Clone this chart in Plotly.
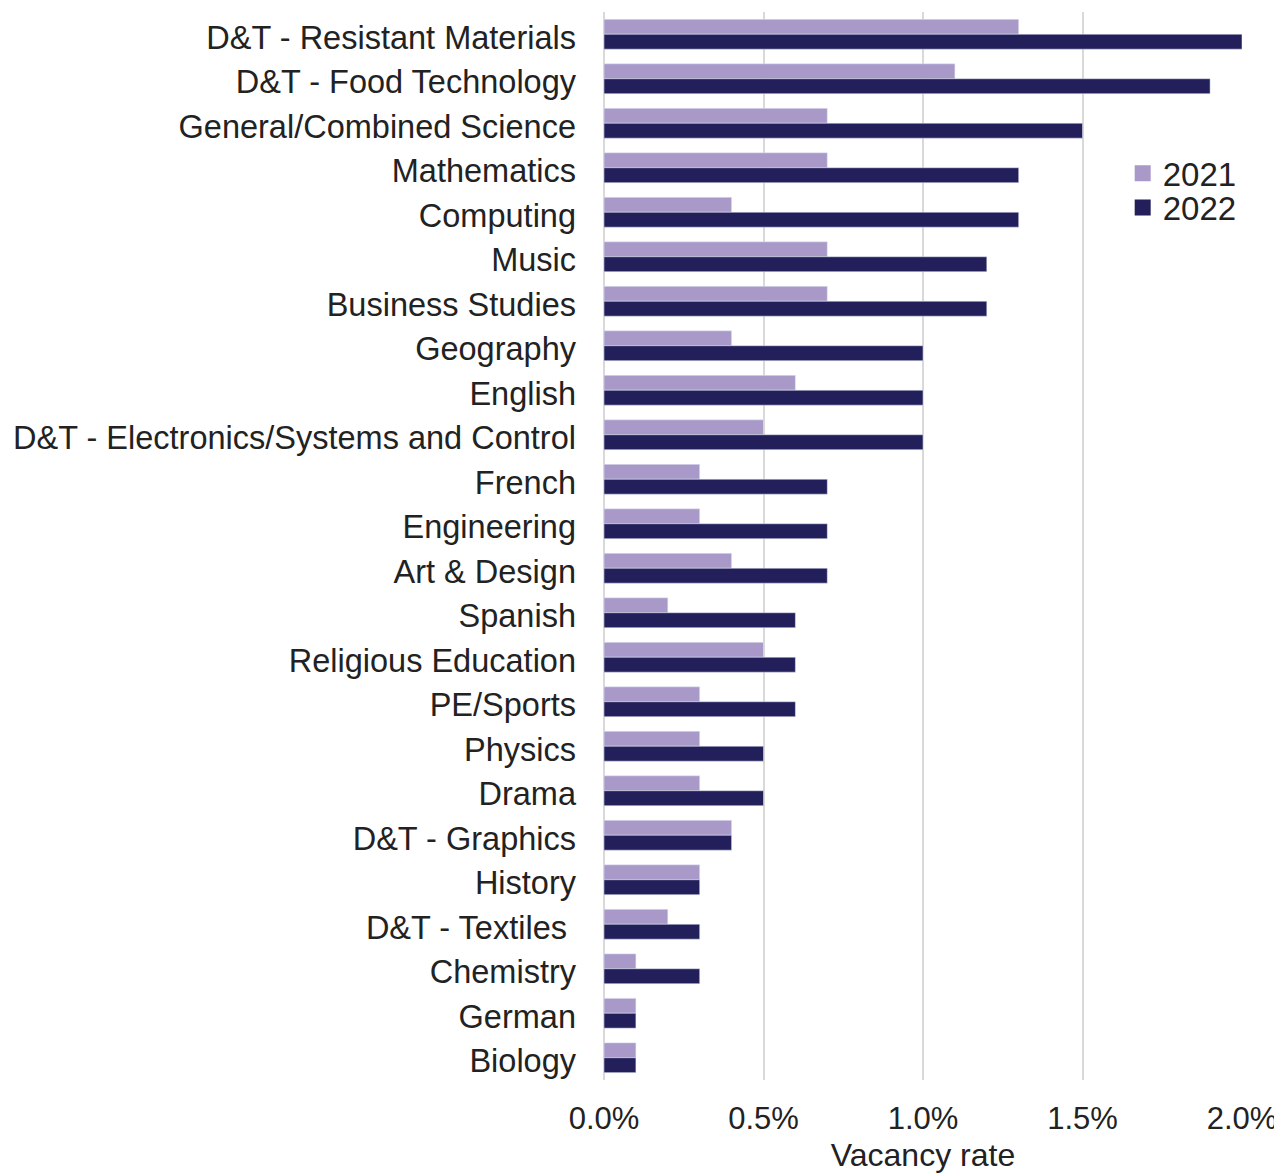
import plotly.graph_objects as go

subjects = [
    "D&T - Resistant Materials", "D&T - Food Technology", "General/Combined Science",
    "Mathematics", "Computing", "Music", "Business Studies", "Geography", "English",
    "D&T - Electronics/Systems and Control", "French", "Engineering", "Art & Design",
    "Spanish", "Religious Education", "PE/Sports", "Physics", "Drama", "D&T - Graphics",
    "History", "D&T - Textiles ", "Chemistry", "German", "Biology",
]
rate_2021 = [1.3, 1.1, 0.7, 0.7, 0.4, 0.7, 0.7, 0.4, 0.6, 0.5, 0.3, 0.3, 0.4,
             0.2, 0.5, 0.3, 0.3, 0.3, 0.4, 0.3, 0.2, 0.1, 0.1, 0.1]
rate_2022 = [2.0, 1.9, 1.5, 1.3, 1.3, 1.2, 1.2, 1.0, 1.0, 1.0, 0.7, 0.7, 0.7,
             0.6, 0.6, 0.6, 0.5, 0.5, 0.4, 0.3, 0.3, 0.3, 0.1, 0.1]
x_ticks = [0, 0.005, 0.01, 0.015, 0.02]
years = ["2021", "2022"]
colors = ["#A899C9", "#231F5A"]

font = "Liberation Sans, Arial, sans-serif"

fig = go.Figure()
for name, vals, col in zip(years, [rate_2021, rate_2022], colors):
    fig.add_trace(go.Bar(y=subjects, x=[v / 100 for v in vals], orientation="h",
                         name=name, marker_color=col, showlegend=False))

# legend entries with bigger square symbols, one legend each for tight spacing
for i, (name, col) in enumerate(zip(years, colors)):
    fig.add_trace(go.Scatter(x=[None], y=[None], mode="markers", name=name,
                             marker=dict(symbol="square", size=16, color=col),
                             legend="legend" if i == 0 else "legend2"))

leg = dict(xanchor="left", yanchor="middle", bgcolor="rgba(0,0,0,0)",
           font=dict(size=33), itemwidth=30)

fig.update_layout(
    width=1274, height=1165,
    margin=dict(l=596, r=40, t=4, b=93),
    barmode="group", bargap=0.33, bargroupgap=0,
    plot_bgcolor="white", paper_bgcolor="white",
    showlegend=True,
    font=dict(family=font, size=32, color="#222222"),
    legend=dict(x=0.813, y=0.849, **leg),
    legend2=dict(x=0.813, y=0.8168, **leg),
    xaxis=dict(range=[0, 0.02], tickvals=x_ticks, tickformat=".1%",
               showgrid=True, gridcolor="#D9D9D9", gridwidth=2,
               zeroline=True, zerolinecolor="#D9D9D9", zerolinewidth=2,
               showline=False, ticks="", ticklabelstandoff=17,
               tickfont=dict(size=31),
               title=dict(text="Vacancy rate", standoff=10, font=dict(size=32))),
    yaxis=dict(autorange="reversed", showgrid=False, ticks="",
               ticklabelstandoff=27, ticklabelshift=-3, tickfont=dict(size=32.5)),
)

fig.write_html("out.html")
